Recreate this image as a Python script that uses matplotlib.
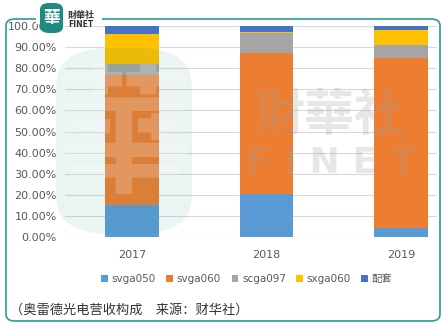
import matplotlib
matplotlib.use("Agg")
import matplotlib.pyplot as plt
import numpy as np
from matplotlib.patches import FancyBboxPatch, Rectangle

plt.rcParams['font.family'] = ['DejaVu Sans', 'Noto Sans CJK SC']

years = ['2017', '2018', '2019']
svga050 = [15.0, 20.5, 4.4]
svga060 = [62.0, 66.5, 80.6]
scga097 = [5.0, 9.8, 6.0]
sxga060 = [14.0, 0.5, 7.2]
peitao = [4.0, 2.7, 1.8]

series = [('svga050', svga050, '#5B9BD5'),
          ('svga060', svga060, '#ED7D31'),
          ('scga097', scga097, '#A5A5A5'),
          ('sxga060', sxga060, '#FFC000'),
          ('配套', peitao, '#4472C4')]
yticks = [0, 10, 20, 30, 40, 50, 60, 70, 80, 90, 100]

W, H = 448, 326
fig = plt.figure(figsize=(W / 100, H / 100), dpi=100)
ax = fig.add_axes([65 / W, 1 - 237 / H, (437 - 65) / W, (237 - 26) / H])

x = np.arange(len(years))
bottom = np.zeros(len(years))
handles = []
for name, vals, col in series:
    h = ax.bar(x, vals, 0.4, bottom=bottom, color=col, label=name, zorder=2)
    handles.append(h)
    bottom += np.array(vals)

ax.set_ylim(0, 100)
ax.set_xlim(-0.5, 2.268)
ax.set_yticks(yticks)
ax.set_yticklabels(['%.2f%%' % v for v in yticks], fontsize=8, color='#595959')
ax.set_xticks(x)
ax.set_xticklabels(years, fontsize=8, color='#595959')
ax.tick_params(length=0, pad=6)
ax.tick_params(axis='x', pad=9)
ax.grid(axis='y', color='#d9d9d9', linewidth=0.8, zorder=0)
for s in ax.spines.values():
    s.set_visible(False)

fig.legend(handles=handles, loc='center', bbox_to_anchor=(247 / W, 1 - 279 / H),
           ncol=5, frameon=False, fontsize=7.5, handlelength=0.6, handleheight=0.6,
           handletextpad=0.4, columnspacing=1.0, labelcolor='#595959')

fig.text(10 / W, 1 - 310 / H, '（奥雷德光电营收构成　来源：财华社）', fontsize=9.5,
         color='#333333', va='center', family=['Noto Sans CJK SC', 'DejaVu Sans'])

# frame
frame = FancyBboxPatch((6 / W, 1 - 321 / H), 434 / W, 302 / H,
                       boxstyle='round,pad=0,rounding_size=0.02',
                       transform=fig.transFigure, facecolor='none',
                       edgecolor='#2a9d8f', linewidth=1.2, zorder=0)
fig.patches.append(frame)
# gap in the frame behind the logo
gap = Rectangle((36 / W, 1 - 24 / H), 66 / W, 10 / H, transform=fig.transFigure,
                facecolor='white', edgecolor='none', zorder=1)
fig.patches.append(gap)

# logo
logo_bg = FancyBboxPatch((40 / W, 1 - 33 / H), 23 / W, 30 / H,
                         boxstyle='round,pad=0,rounding_size=0.02',
                         transform=fig.transFigure, facecolor='#1f8a80',
                         edgecolor='none', zorder=5)
fig.patches.append(logo_bg)
fig.text(51.5 / W, 1 - 18 / H, '華', fontsize=12, color='white', ha='center', va='center',
         family=['Noto Sans CJK TC'], fontweight='bold', zorder=6)
fig.text(68 / W, 1 - 15 / H, '財華社', fontsize=6.5, color='#333333', va='center',
         family=['Noto Sans CJK TC'], zorder=6, fontweight='bold')
fig.text(68 / W, 1 - 24.5 / H, 'FINET', fontsize=5.5, color='#333333', va='center', zorder=6,
         fontweight='bold')

# watermark
wm = FancyBboxPatch((56 / W, 1 - 234 / H), 136 / W, 186 / H,
                    boxstyle='round,pad=0,rounding_size=0.12',
                    transform=fig.transFigure, facecolor='#1f8a80', alpha=0.09,
                    edgecolor='none', zorder=10)
fig.patches.append(wm)
fig.text(124 / W, 1 - 142 / H, '華', fontsize=100, color='white', alpha=0.2, ha='center',
         va='center', family=['Noto Sans CJK TC'], fontweight='bold', zorder=11)
fig.text(330 / W, 1 - 116 / H, '財華社', fontsize=36, color='#a0a0a0', alpha=0.25,
         ha='center', va='center', family=['Noto Sans CJK TC'], fontweight='bold', zorder=11)
fig.text(330 / W, 1 - 163 / H, 'F I N E T', fontsize=26, color='#a0a0a0', alpha=0.25,
         ha='center', va='center', fontweight='bold', zorder=11)

fig.savefig('out.png', dpi=100)
